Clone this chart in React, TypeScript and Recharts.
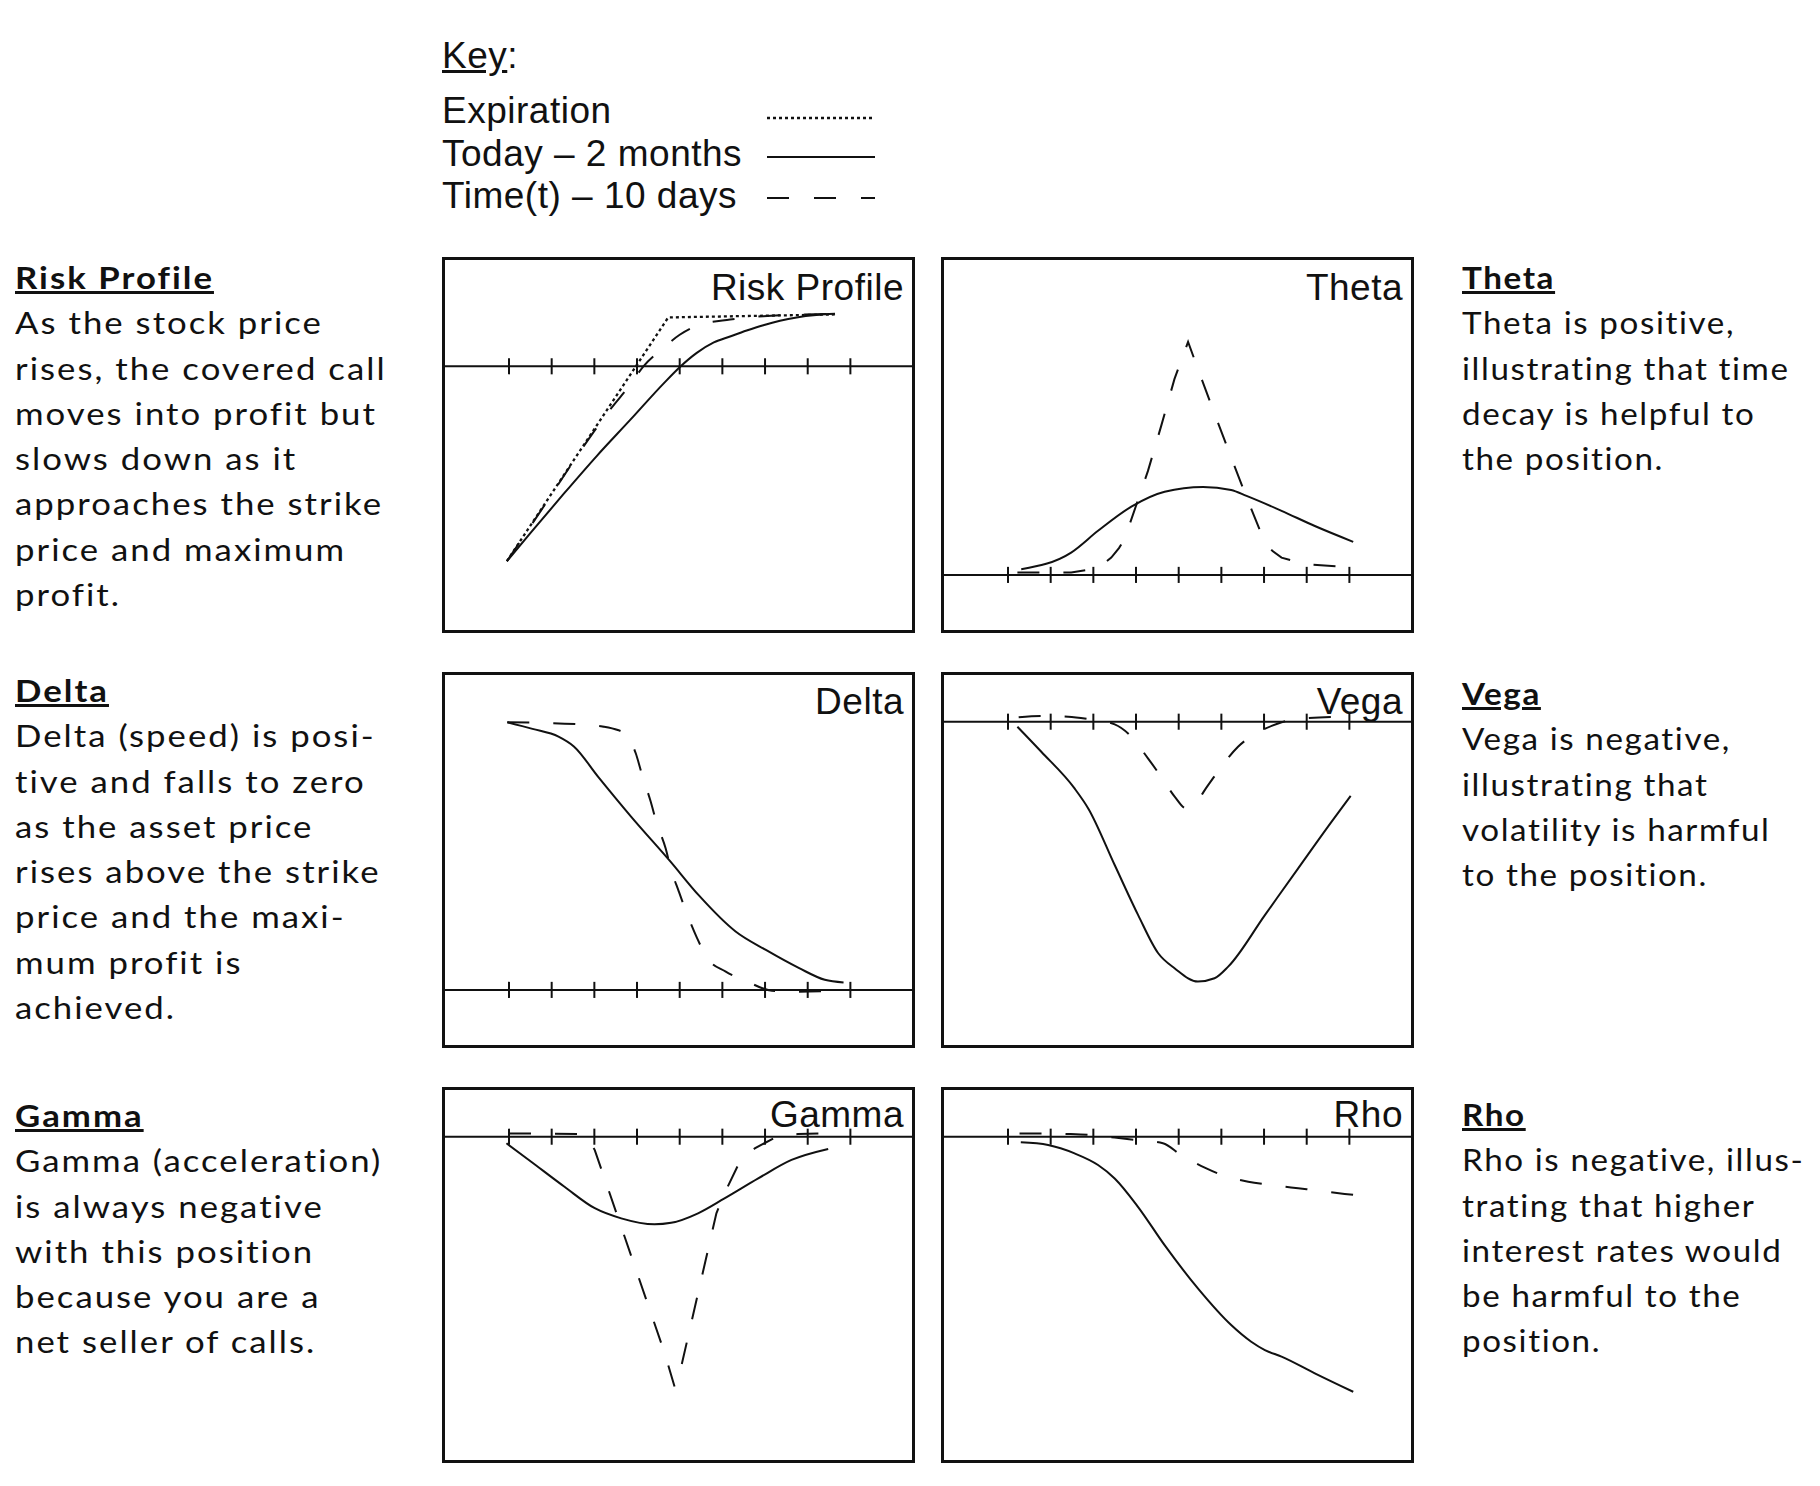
import { LineChart, Line, XAxis, YAxis, ReferenceLine } from "recharts"

// stock price grid (tick positions on the horizontal axis)
const PRICE_TICKS = [0, 1, 2, 3, 4, 5, 6, 7, 8]

type Pt = [number, number]

// Risk Profile
const RISK_EXPIRY: Pt[] = [[-0.05, -6.54], [3.73, 1.64], [7.64, 1.74]]
const RISK_TODAY: Pt[] = [
  [-0.05, -6.54], [0.5, -5.6], [1.27, -4.3], [2.05, -3.02], [2.84, -1.8], [3.62, -0.58],
  [4.0, -0.03], [4.4, 0.45], [4.8, 0.8], [5.18, 1.0], [5.57, 1.2], [5.96, 1.38], [6.35, 1.53],
  [6.74, 1.64], [7.2, 1.72], [7.64, 1.76],
]
const RISK_TIME: Pt[] = [
  [-0.05, -6.54], [0.88, -4.56], [1.66, -2.87], [2.37, -1.45], [2.84, -0.62], [3.15, 0],
  [3.62, 0.62], [4.0, 1.06], [4.4, 1.36], [5.18, 1.57], [5.96, 1.68], [6.74, 1.73], [7.64, 1.76],
]

// Theta
const THETA_TODAY: Pt[] = [
  [0.31, 0.19], [1.48, 0.75], [2.11, 1.48], [2.89, 2.29], [3.67, 2.79], [4.57, 2.95],
  [5.23, 2.85], [5.59, 2.65], [6.41, 2.15], [7.19, 1.64], [8.09, 1.11],
]
const THETA_TIME: Pt[] = [
  [0.22, 0.08], [1.48, 0.08], [1.88, 0.17], [2.2, 0.33], [2.42, 0.58], [2.6, 0.9], [2.73, 1.2],
  [3.0, 2.32], [3.28, 3.49], [3.59, 5.0], [3.9, 6.57], [4.22, 7.82], [4.41, 7.07], [4.8, 5.56],
  [5.2, 4.05], [5.59, 2.6], [6.02, 1.09], [6.2, 0.8], [6.41, 0.58], [6.95, 0.36], [8.09, 0.25],
]

// Delta
const DELTA_TODAY: Pt[] = [
  [-0.04, 8.98], [0.55, 8.76], [1.16, 8.5], [1.52, 8.17], [2.09, 7.15], [2.87, 5.8],
  [3.77, 4.33], [4.45, 3.17], [5.31, 1.96], [6.02, 1.34], [6.8, 0.73], [7.4, 0.34], [7.84, 0.25],
]
const DELTA_TIME: Pt[] = [
  [-0.04, 8.98], [1.6, 8.92], [2.19, 8.84], [2.55, 8.72], [2.73, 8.61], [2.97, 7.94],
  [3.12, 7.21], [3.32, 6.32], [3.45, 5.65], [3.67, 4.75], [3.79, 4.08], [3.98, 3.3],
  [4.18, 2.52], [4.41, 1.73], [4.65, 1.06], [5.07, 0.62], [5.58, 0.28], [6.16, -0.03],
  [6.66, -0.06], [7.69, -0.03],
]

// Vega
const VEGA_TODAY: Pt[] = [
  [0.22, -0.17], [0.78, -1.01], [1.56, -2.24], [1.88, -2.91], [2.5, -4.81], [3.05, -6.49],
  [3.52, -7.77], [3.91, -8.28], [4.45, -8.72], [4.84, -8.61], [5.16, -8.22], [6.02, -6.49],
  [6.8, -4.92], [7.58, -3.36], [8.03, -2.49],
]
const VEGA_TIME: Pt[] = [
  [0.25, 0.15], [0.78, 0.19], [1.41, 0.17], [1.88, 0.09], [2.5, -0.09], [2.89, -0.5],
  [3.28, -1.23], [3.59, -1.85], [3.91, -2.52], [4.18, -2.91], [4.34, -2.8], [4.69, -2.13],
  [5.0, -1.51], [5.39, -0.84], [5.82, -0.39], [6.33, -0.06], [6.88, 0.11], [7.97, 0.17],
]

// Gamma
const GAMMA_TODAY: Pt[] = [
  [-0.06, -0.22], [0.52, -0.84], [1.3, -1.68], [2.01, -2.4], [2.63, -2.74], [3.41, -2.94],
  [3.8, -2.89], [4.43, -2.57], [5.05, -2.07], [5.84, -1.4], [6.62, -0.78], [7.48, -0.41],
]
const GAMMA_TIME: Pt[] = [
  [0.0, 0.11], [1.7, 0.09], [1.83, 0.02], [2.01, -0.45], [3.65, -7.27], [3.88, -8.39],
  [4.0, -7.94], [4.86, -2.57], [5.05, -1.9], [5.37, -0.95], [5.76, -0.39], [6.3, 0.02],
  [6.77, 0.09], [7.67, 0.13],
]

// Rho
const RHO_TODAY: Pt[] = [
  [0.3, -0.19], [0.94, -0.28], [1.56, -0.56], [2.11, -0.95], [2.5, -1.4], [3.05, -2.36],
  [3.67, -3.64], [4.45, -5.09], [5.23, -6.32], [5.7, -6.88], [6.02, -7.16], [6.41, -7.38],
  [7.19, -7.94], [8.09, -8.56],
]
const RHO_TIME: Pt[] = [
  [0.27, 0.11], [0.78, 0.11], [1.41, 0.09], [1.88, 0.06], [2.5, -0.03], [3.0, -0.11],
  [3.63, -0.22], [4.06, -0.62], [4.61, -1.04], [5.08, -1.32], [5.63, -1.51], [6.17, -1.62],
  [6.8, -1.73], [7.27, -1.81], [7.89, -1.92], [8.36, -1.99],
]

const INK = "#111"
const KEY_FONT = "'Liberation Sans', Arial, Helvetica, sans-serif"
const NOTE_FONT = "Lato, 'Noto Sans', sans-serif"

// line styles used by the key and by every panel
const STYLES = {
  expiry: { name: "Expiration", dash: "3 3" },
  today: { name: "Today \u2013 2 months", dash: undefined },
  time: { name: "Time(t) \u2013 10 days", dash: "22 24" },
}
type StyleKey = keyof typeof STYLES

// panel box geometry
const BOX_W = 473
const BOX_H = 376
const BORDER = 3
const X_DOMAIN: [number, number] = [-1.5, 9.444]
const TICK_HALF = 0.27

interface Series {
  style: StyleKey
  points: Pt[]
  curve?: "monotone" | "linear"
}

interface PanelProps {
  title: string
  left: number
  top: number
  titleTop: number
  topTick: number // value of the highest y tick
  series: Series[]
}

const PANELS: PanelProps[] = [
  {
    title: "Risk Profile", left: 442, top: 257, titleTop: 9, topTick: 2,
    series: [
      { style: "expiry", points: RISK_EXPIRY, curve: "linear" },
      { style: "time", points: RISK_TIME },
      { style: "today", points: RISK_TODAY },
    ],
  },
  {
    title: "Theta", left: 941, top: 257, titleTop: 9, topTick: 9,
    series: [
      { style: "time", points: THETA_TIME, curve: "linear" },
      { style: "today", points: THETA_TODAY },
    ],
  },
  {
    title: "Delta", left: 442, top: 672, titleTop: 8, topTick: 9,
    series: [
      { style: "time", points: DELTA_TIME },
      { style: "today", points: DELTA_TODAY },
    ],
  },
  {
    title: "Vega", left: 941, top: 672, titleTop: 8, topTick: 0,
    series: [
      { style: "time", points: VEGA_TIME },
      { style: "today", points: VEGA_TODAY },
    ],
  },
  {
    title: "Gamma", left: 442, top: 1087, titleTop: 6, topTick: 0,
    series: [
      { style: "time", points: GAMMA_TIME, curve: "linear" },
      { style: "today", points: GAMMA_TODAY },
    ],
  },
  {
    title: "Rho", left: 941, top: 1087, titleTop: 6, topTick: 0,
    series: [
      { style: "time", points: RHO_TIME },
      { style: "today", points: RHO_TODAY },
    ],
  },
]

const NOTES = [
  {
    left: 15, top: 255, heading: "Risk Profile",
    lines: ["As the stock price", "rises, the covered call", "moves into profit but", "slows down as it",
      "approaches the strike", "price and maximum", "profit."],
  },
  {
    left: 15, top: 668, heading: "Delta",
    lines: ["Delta (speed) is posi-", "tive and falls to zero", "as the asset price", "rises above the strike",
      "price and the maxi-", "mum profit is", "achieved."],
  },
  {
    left: 15, top: 1093, heading: "Gamma",
    lines: ["Gamma (acceleration)", "is always negative", "with this position", "because you are a",
      "net seller of calls."],
  },
  {
    left: 1462, top: 255, heading: "Theta",
    lines: ["Theta is positive,", "illustrating that time", "decay is helpful to", "the position."],
  },
  {
    left: 1462, top: 671, heading: "Vega",
    lines: ["Vega is negative,", "illustrating that", "volatility is harmful", "to the position."],
  },
  {
    left: 1462, top: 1092, heading: "Rho",
    lines: ["Rho is negative, illus-", "trating that higher", "interest rates would", "be harmful to the",
      "position."],
  },
]

function GreekPanel({ title, left, top, titleTop, topTick, series }: PanelProps) {
  const innerW = BOX_W - 2 * BORDER
  const innerH = BOX_H - 2 * BORDER
  const yDomain: [number, number] = [topTick - 10.849, topTick + 1.567]
  const yTicks = Array.from({ length: 10 }, (_, i) => topTick - i)

  return (
    <div
      style={{
        position: "absolute", left, top, width: BOX_W, height: BOX_H,
        border: `${BORDER}px solid ${INK}`, boxSizing: "border-box", background: "#fff",
      }}
    >
      <LineChart width={innerW} height={innerH} margin={{ top: 0, right: 0, bottom: 0, left: 0 }}>
        <XAxis type="number" dataKey="x" domain={X_DOMAIN} allowDataOverflow hide />
        <YAxis
          type="number"
          domain={yDomain}
          ticks={yTicks}
          allowDataOverflow
          mirror
          width={0}
          axisLine={false}
          tick={false}
          tickSize={13}
          tickLine={{ stroke: INK, strokeWidth: 2 }}
        />
        <ReferenceLine y={0} stroke={INK} strokeWidth={2} />
        {PRICE_TICKS.map((t) => (
          <ReferenceLine
            key={t}
            segment={[{ x: t, y: -TICK_HALF }, { x: t, y: TICK_HALF }]}
            stroke={INK}
            strokeWidth={2}
          />
        ))}
        {series.map((s) => (
          <Line
            key={s.style}
            data={s.points.map(([x, y]) => ({ x, y }))}
            dataKey="y"
            type={s.curve ?? "monotone"}
            stroke={INK}
            strokeWidth={s.style === "expiry" ? 2.3 : 2}
            strokeDasharray={STYLES[s.style].dash}
            dot={false}
            activeDot={false}
            isAnimationActive={false}
          />
        ))}
      </LineChart>
      <div
        style={{
          position: "absolute", right: 8, top: titleTop, fontFamily: KEY_FONT, fontSize: 37,
          lineHeight: "37px", letterSpacing: 0.5, color: INK, whiteSpace: "nowrap",
        }}
      >
        {title}
      </div>
    </div>
  )
}

function Key() {
  const rows: StyleKey[] = ["expiry", "today", "time"]
  const rowTops = [92, 135, 177]
  const sampleY = [118, 157, 198]
  const text = { position: "absolute" as const, left: 442, fontFamily: KEY_FONT, fontSize: 37, lineHeight: "37px", letterSpacing: 0.5, whiteSpace: "nowrap" as const }
  return (
    <>
      <div style={{ ...text, top: 37 }}>
        <span style={{ textDecoration: "underline" }}>Key</span>:
      </div>
      {rows.map((k, i) => (
        <div key={k} style={{ ...text, top: rowTops[i] }}>
          {STYLES[k].name}
        </div>
      ))}
      <svg style={{ position: "absolute", left: 760, top: 100 }} width={130} height={110}>
        {rows.map((k, i) => (
          <line
            key={k}
            x1={7}
            x2={115}
            y1={sampleY[i] - 100}
            y2={sampleY[i] - 100}
            stroke={INK}
            strokeWidth={k === "expiry" ? 2.3 : 2}
            strokeDasharray={k === "time" ? "22 25" : STYLES[k].dash}
          />
        ))}
      </svg>
    </>
  )
}

export default function App() {
  return (
    <div
      style={{
        position: "absolute", left: 0, top: 0, width: 1820, height: 1486,
        background: "#fff", color: INK, overflow: "hidden",
      }}
    >
      <Key />
      {PANELS.map((p) => (
        <GreekPanel key={p.title} {...p} />
      ))}
      {NOTES.map((n) => {
        // right-hand notes run close to the page edge, so they are set a touch tighter
        const right = n.left > 1000
        return (
          <div
            key={n.heading}
            style={{
              position: "absolute", left: n.left, top: n.top, fontFamily: NOTE_FONT,
              fontSize: 31, lineHeight: "45.3px", letterSpacing: right ? 1.5 : 1.8, whiteSpace: "nowrap",
              transform: right ? "scaleX(1.07)" : "scaleX(1.12)", transformOrigin: "left top",
            }}
          >
            <div style={{ fontWeight: 700, textDecoration: "underline" }}>{n.heading}</div>
            {n.lines.map((l, i) => (
              <div key={i}>{l}</div>
            ))}
          </div>
        )
      })}
    </div>
  )
}
